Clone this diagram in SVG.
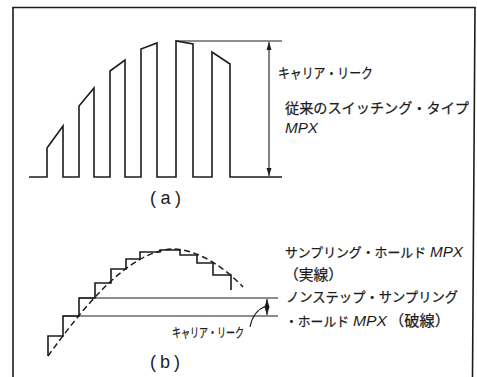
<svg xmlns="http://www.w3.org/2000/svg" width="477" height="377" viewBox="0 0 477 377">
<defs>
<style>
.ln{fill:none;stroke:#1c1c1c;stroke-width:1.6;stroke-linejoin:miter}
.th{fill:none;stroke:#1c1c1c;stroke-width:1.1}
.dash{fill:none;stroke:#1c1c1c;stroke-width:1.5;stroke-dasharray:6 3.5}
.jp{font-family:"Noto Sans CJK JP","Noto Sans CJK SC",sans-serif;fill:#1c1c1c;stroke:#1c1c1c;stroke-width:0.25}
.lt{font-family:"Liberation Sans",Arial,sans-serif;font-style:italic;fill:#1c1c1c}
.pl{font-family:"Liberation Sans",Arial,sans-serif;fill:#1c1c1c}
</style>
<marker id="ah" viewBox="0 0 8 6" refX="8" refY="3" markerWidth="8" markerHeight="6" markerUnits="userSpaceOnUse" orient="auto-start-reverse">
<path d="M0,0.5 L8,3 L0,5.5 z" fill="#1c1c1c"/>
</marker>
</defs>
<rect width="477" height="377" fill="#ffffff"/>
<g id="frame">
<path class="ln" d="M13,377 V7.5 H475 L472.5,377"/>
</g>
<g id="waveform-a">
<path class="ln" d="M29,177 H47 V148 L63,126 V177 H79 V106 L94,88 V177 H110 V71 L125,60 V177 H141 V49 L157,43 V177 H176 V41 L193,44 V177 H212 V52 L230,64 V177 H282"/>
<path class="th" d="M176,41 H282"/>
</g>
<g id="waveform-b">
<path class="dash" d="M48,356 C85,305 128,252 172,249 C194,249 220,263 243,287"/>
<path class="ln" d="M48,356 V336 H63 V316 H79 V298 H95 V283 H111 V269 H126 V259 H140 V252 H160 V250 H180 V255 H197 V263 H213 V275 H231 V290"/>
<path class="th" d="M63,316 H278 M79,298 H278"/>
</g>
<g id="connectors">
<line class="th" x1="269" y1="42" x2="269" y2="176" marker-start="url(#ah)" marker-end="url(#ah)"/>
<line class="th" x1="267" y1="299" x2="267" y2="315" marker-start="url(#ah)" marker-end="url(#ah)"/>
<path class="th" d="M250,327 Q253,311 266,306"/>
</g>
<g id="label-a-leak">
<text class="jp" x="278" y="78" font-size="14" textLength="95" lengthAdjust="spacingAndGlyphs">キャリア・リーク</text>
</g>
<g id="label-a-type">
<text class="jp" x="285" y="113" font-size="14.2" textLength="184" lengthAdjust="spacingAndGlyphs">従来のスイッチング・タイプ</text>
<text class="lt" x="285" y="133" font-size="14" textLength="33" lengthAdjust="spacingAndGlyphs">MPX</text>
</g>
<g id="caption-a">
<text class="pl" x="150" y="204" font-size="18" textLength="31" lengthAdjust="spacing">(a)</text>
</g>
<g id="label-b-sh">
<text class="jp" x="285" y="257" font-size="13" textLength="141" lengthAdjust="spacingAndGlyphs">サンプリング・ホールド</text>
<text class="lt" x="430" y="257" font-size="14" textLength="33" lengthAdjust="spacingAndGlyphs">MPX</text>
<text class="jp" x="284" y="280" font-size="14.5" textLength="59" lengthAdjust="spacingAndGlyphs">（実線）</text>
</g>
<g id="label-b-ns">
<text class="jp" x="286" y="302" font-size="13.4" textLength="172" lengthAdjust="spacingAndGlyphs">ノンステップ・サンプリング</text>
<text class="jp" x="285" y="326" font-size="13" textLength="64" lengthAdjust="spacingAndGlyphs">・ホールド</text>
<text class="lt" x="353" y="326" font-size="14" textLength="34" lengthAdjust="spacingAndGlyphs">MPX</text>
<text class="jp" x="389" y="326" font-size="15" textLength="61" lengthAdjust="spacingAndGlyphs">（破線）</text>
</g>
<g id="label-b-leak">
<text class="jp" x="172" y="337" font-size="13" textLength="72" lengthAdjust="spacingAndGlyphs">キャリア・リーク</text>
</g>
<g id="caption-b">
<text class="pl" x="150" y="368" font-size="18" textLength="30" lengthAdjust="spacing">(b)</text>
</g>
</svg>
